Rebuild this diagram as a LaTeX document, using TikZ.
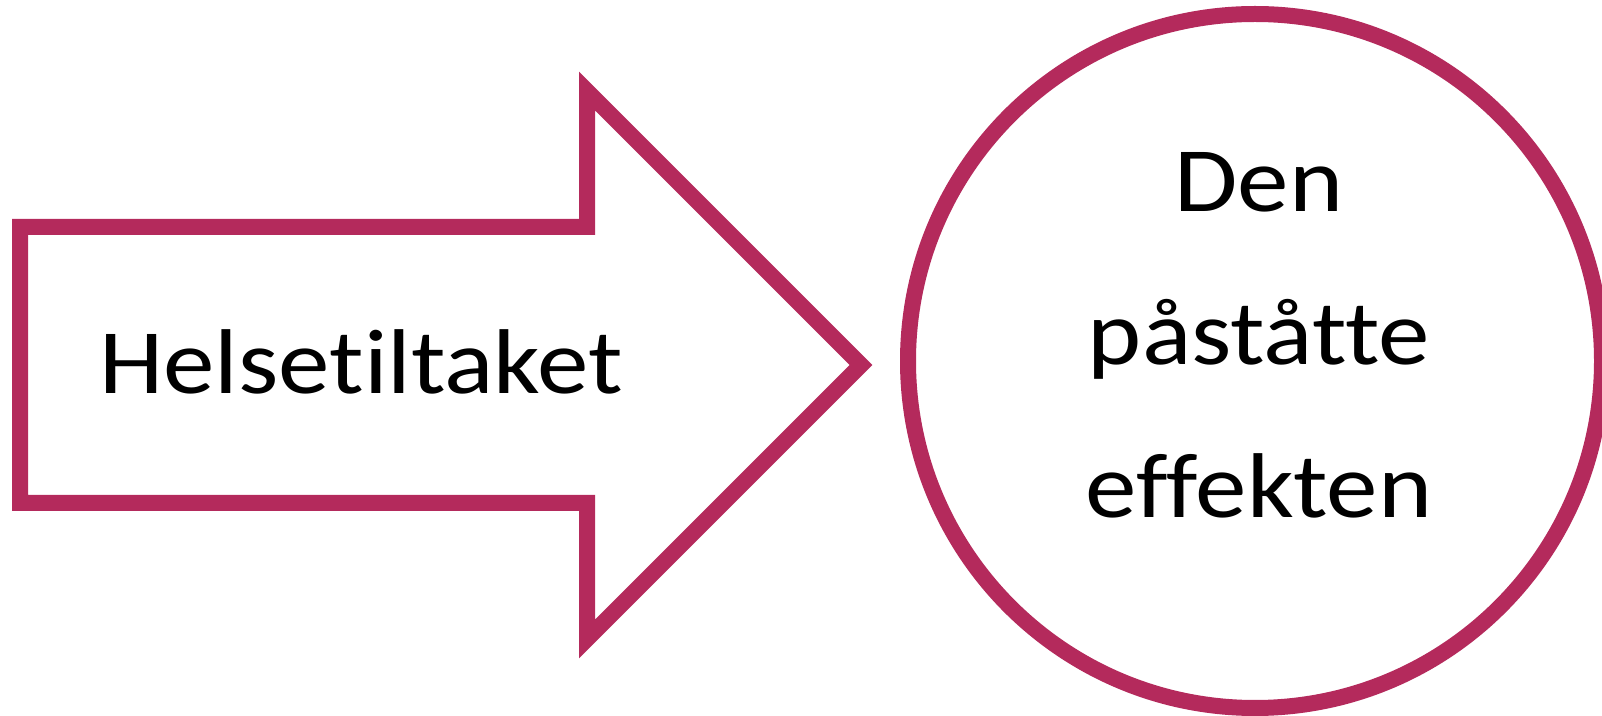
\documentclass[tikz,border=0pt]{standalone}
\usepackage{fontspec}
\setmainfont{Carlito}[Ligatures={NoCommon,NoRare},FakeStretch=1.12]
\usepackage{tikz}
\usetikzlibrary{positioning}
\definecolor{claimred}{RGB}{180,42,92}

\begin{document}
\begin{tikzpicture}[x=0.5pt,y=-0.5pt,line width=8pt,
      shape line/.style={draw=claimred,line join=miter},
      label text/.style={font=\fontsize{46pt}{76.5pt}\selectfont,inner sep=0pt}]
  \useasboundingbox (0,0) rectangle (1602,716);

  % block arrow
  \draw[shape line] (20,227) -- (587,227) -- (587,91) -- (861,365)
        -- (587,639) -- (587,503) -- (20,503) -- cycle;
  \node[label text,anchor=base] (measure) at (361,394) {Helsetiltaket};

  % effect circle
  \node[shape line,circle,minimum size=347pt,inner sep=0pt] (effect) at (1255,361) {};
  \node[label text,align=center,anchor=north] (effecttext) at (1259,144) {Den\\påståtte\\effekten};
\end{tikzpicture}
\end{document}
